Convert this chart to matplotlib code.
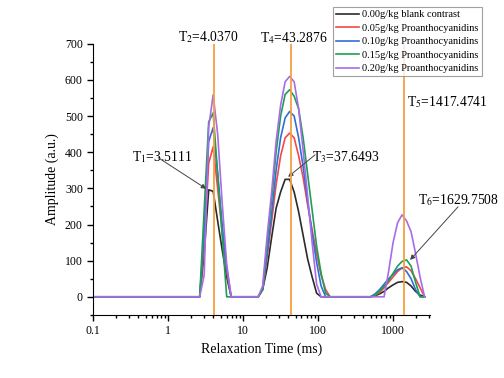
import matplotlib
matplotlib.use("Agg")
import matplotlib.pyplot as plt
from matplotlib.ticker import MultipleLocator, LogLocator, NullFormatter, FixedLocator, FixedFormatter

plt.rcParams['font.family'] = ['Liberation Serif', 'DejaVu Serif']
plt.rcParams['mathtext.fontset'] = 'stix'

# relaxation time grid (ms)
t2 = [0.1,
      2.63, 3.02, 3.47, 3.98, 4.57, 5.25, 6.03, 6.92,
      15.85, 18.2, 20.9, 24.0, 27.5, 31.6, 36.3, 41.7, 47.9, 55.0, 63.1, 72.4, 83.2, 95.5, 109.6, 125.9, 144.5,
      501, 575, 661, 759, 871, 1000, 1148, 1318, 1514, 1738, 1995, 2291, 2630]

amp_000 = [0,
           0, 120, 296, 292, 210, 130, 55, 0,
           0, 20, 80, 165, 245, 290, 325, 325, 290, 235, 170, 105, 55, 10, 0, 0, 0,
           0, 3, 8, 15, 25, 33, 40, 42, 40, 30, 15, 5, 0]
amp_005 = [0,
           0, 150, 370, 415, 300, 180, 70, 0,
           0, 20, 110, 210, 310, 390, 440, 453, 440, 390, 330, 255, 185, 120, 60, 20, 0,
           0, 4, 12, 25, 40, 55, 70, 80, 83, 72, 50, 25, 0]
amp_010 = [0,
           0, 180, 430, 468, 340, 200, 80, 0,
           0, 20, 120, 230, 350, 440, 495, 513, 500, 440, 360, 265, 175, 95, 30, 0, 0,
           0, 8, 20, 35, 50, 62, 75, 80, 70, 50, 20, 0, 0]
amp_015 = [0,
           0, 240, 484, 509, 340, 170, 0, 0,
           0, 20, 150, 270, 400, 500, 560, 573, 555, 520, 440, 340, 240, 140, 65, 10, 0,
           0, 5, 15, 30, 45, 65, 85, 98, 102, 85, 40, 0, 0]
amp_020 = [0,
           0, 60, 470, 559, 450, 260, 90, 0,
           0, 30, 170, 290, 430, 530, 595, 610, 595, 520, 405, 280, 150, 35, 0, 0, 0,
           0, 0, 0, 0, 70, 150, 205, 227, 210, 180, 120, 55, 0]

labels = ['0.00g/kg blank contrast', '0.05g/kg Proanthocyanidins', '0.10g/kg Proanthocyanidins',
          '0.15g/kg Proanthocyanidins', '0.20g/kg Proanthocyanidins']
colors = ['#2b2b2b', '#f24848', '#2f6fd8', '#1f9e55', '#a86ce6']
peak_times = [4.0370, 43.2876, 1417.4741]

fig = plt.figure(figsize=(5.04, 3.78), dpi=100)
ax = fig.add_axes([0.185, 0.167, 0.668, 0.717])

for amp, lab, c in zip([amp_000, amp_005, amp_010, amp_015, amp_020], labels, colors):
    ax.plot(t2, amp, color=c, lw=1.2, label=lab)

for t in peak_times:
    ax.axvline(t, color='#f7a040', lw=1.3, zorder=5)

ax.set_xscale('log')
ax.set_xlim(0.1, 3100)
ax.set_ylim(-50, 700)
ax.xaxis.set_major_locator(FixedLocator([0.1, 1, 10, 100, 1000]))
ax.xaxis.set_major_formatter(FixedFormatter(['0.1', '1', '10', '100', '1000']))
ax.xaxis.set_minor_locator(LogLocator(base=10, subs=range(2, 10)))
ax.xaxis.set_minor_formatter(NullFormatter())
ax.yaxis.set_major_locator(MultipleLocator(100))
ax.yaxis.set_minor_locator(MultipleLocator(50))
ax.spines['top'].set_visible(False)
ax.spines['right'].set_visible(False)
ax.tick_params(which='both', direction='out', labelsize=8.5, width=1)
ax.tick_params(which='major', length=4)
ax.tick_params(which='minor', length=2)
ax.set_yticks([0, 100, 200, 300, 400, 500, 600, 700])
ax.set_xlabel('Relaxation Time (ms)', fontsize=10)
ax.set_ylabel('Amplitude (a.u.)', fontsize=10)

fs = 9.8
ax.text(0.331, 387, r'T$_1$=3.5111', fontsize=fs, va='center')
ax.text(1.36, 719, r'T$_2$=4.0370', fontsize=fs, va='center', clip_on=False)
ax.text(83.2, 387, r'T$_3$=37.6493', fontsize=fs, va='center')
ax.text(16.9, 717, r'T$_4$=43.2876', fontsize=fs, va='center', clip_on=False)
ax.text(1537, 540, r'T$_5$=1417.4741', fontsize=fs, va='center', clip_on=False)
ax.text(2154, 268, r'T$_6$=1629.7508', fontsize=fs, va='center', clip_on=False)

arrow = dict(arrowstyle='-|>', color='#444444', lw=0.7, mutation_scale=7, shrinkA=0, shrinkB=0)
ax.annotate('', xy=(3.21, 299), xytext=(0.736, 385), arrowprops=arrow)
ax.annotate('', xy=(39.8, 332), xytext=(91.2, 393), arrowprops=arrow)
ax.annotate('', xy=(1686, 102), xytext=(7356, 249), arrowprops=arrow, annotation_clip=False)

leg = ax.legend(loc='upper left', bbox_to_anchor=(333 / 504, 1 - 7 / 378), bbox_transform=fig.transFigure,
                fontsize=7.5, frameon=True, fancybox=False, borderpad=0.3, labelspacing=0.4,
                handlelength=2.2, handletextpad=0.3, borderaxespad=0)
leg.get_frame().set_edgecolor('#888888')
leg.get_frame().set_linewidth(0.8)

fig.savefig('out.png', dpi=100)
